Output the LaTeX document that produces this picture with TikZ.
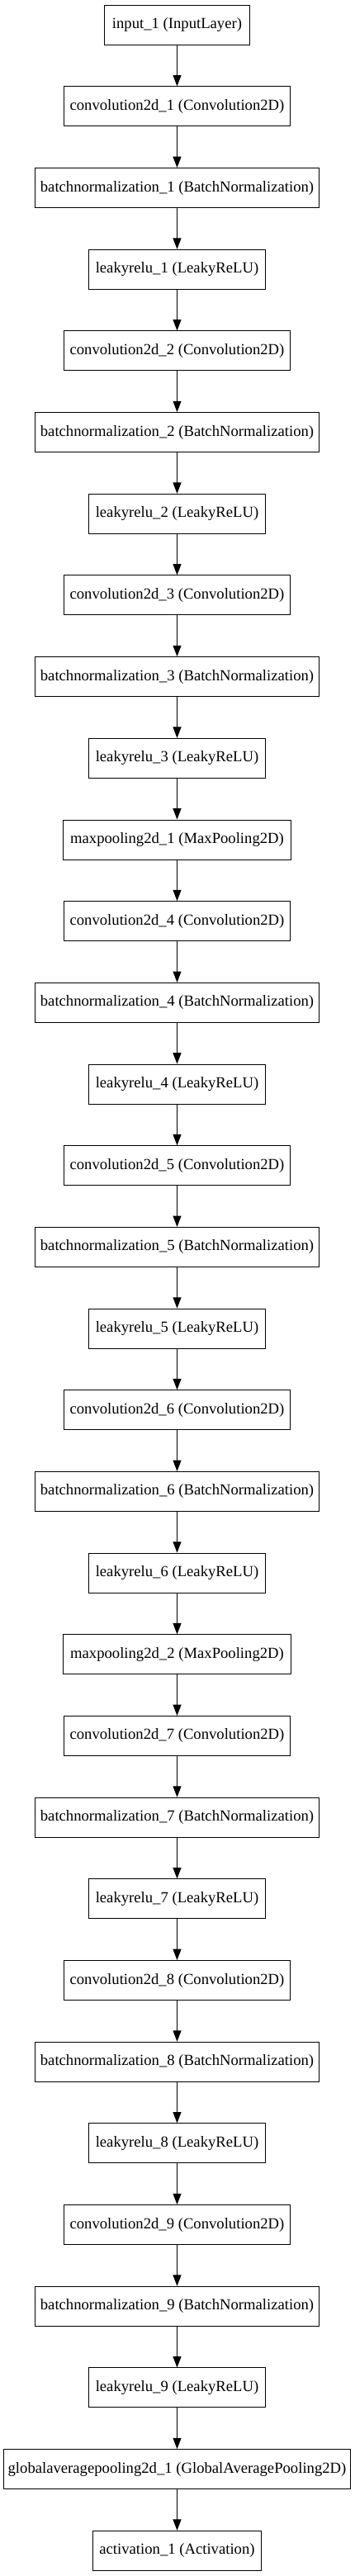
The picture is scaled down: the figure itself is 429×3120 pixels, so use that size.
\documentclass[tikz,border=0pt]{standalone}
\usepackage{fontspec}
\setmainfont{Liberation Serif}
\usetikzlibrary{arrows.meta}
\begin{document}
\begin{tikzpicture}[x=0.75pt,y=-0.75pt,
  layer/.style={draw, line width=0.75pt, rectangle, inner sep=0pt,
    minimum height=36pt, font=\fontsize{14}{16}\selectfont},
  edge/.style={-{Triangle[length=10pt,width=7.5pt]}, line width=0.75pt}]
\useasboundingbox (0,0) rectangle (429,3120);
\foreach \t/\w [count=\i from 0] in {
  input\_1 (InputLayer)/131.7,
  convolution2d\_1 (Convolution2D)/205.2,
  batchnormalization\_1 (BatchNormalization)/258.5,
  leakyrelu\_1 (LeakyReLU)/160.5,
  convolution2d\_2 (Convolution2D)/205.2,
  batchnormalization\_2 (BatchNormalization)/258.5,
  leakyrelu\_2 (LeakyReLU)/160.5,
  convolution2d\_3 (Convolution2D)/205.2,
  batchnormalization\_3 (BatchNormalization)/258.5,
  leakyrelu\_3 (LeakyReLU)/160.5,
  maxpooling2d\_1 (MaxPooling2D)/206.3,
  convolution2d\_4 (Convolution2D)/205.2,
  batchnormalization\_4 (BatchNormalization)/258.5,
  leakyrelu\_4 (LeakyReLU)/160.5,
  convolution2d\_5 (Convolution2D)/205.2,
  batchnormalization\_5 (BatchNormalization)/258.5,
  leakyrelu\_5 (LeakyReLU)/160.5,
  convolution2d\_6 (Convolution2D)/205.2,
  batchnormalization\_6 (BatchNormalization)/258.5,
  leakyrelu\_6 (LeakyReLU)/160.5,
  maxpooling2d\_2 (MaxPooling2D)/206.3,
  convolution2d\_7 (Convolution2D)/205.2,
  batchnormalization\_7 (BatchNormalization)/258.5,
  leakyrelu\_7 (LeakyReLU)/160.5,
  convolution2d\_8 (Convolution2D)/205.2,
  batchnormalization\_8 (BatchNormalization)/258.5,
  leakyrelu\_8 (LeakyReLU)/160.5,
  convolution2d\_9 (Convolution2D)/205.2,
  batchnormalization\_9 (BatchNormalization)/258.5,
  leakyrelu\_9 (LeakyReLU)/160.5,
  globalaveragepooling2d\_1 (GlobalAveragePooling2D)/314.5,
  activation\_1 (Activation)/153}
{
  \node[layer, minimum width=\w pt] (n\i) at (214.5, {30.2+98.68*\i}) {\t};
}
\foreach \i [evaluate=\i as \j using int(\i+1)] in {0,...,30}
  \draw[edge] (n\i) -- (n\j);
\end{tikzpicture}
\end{document}
